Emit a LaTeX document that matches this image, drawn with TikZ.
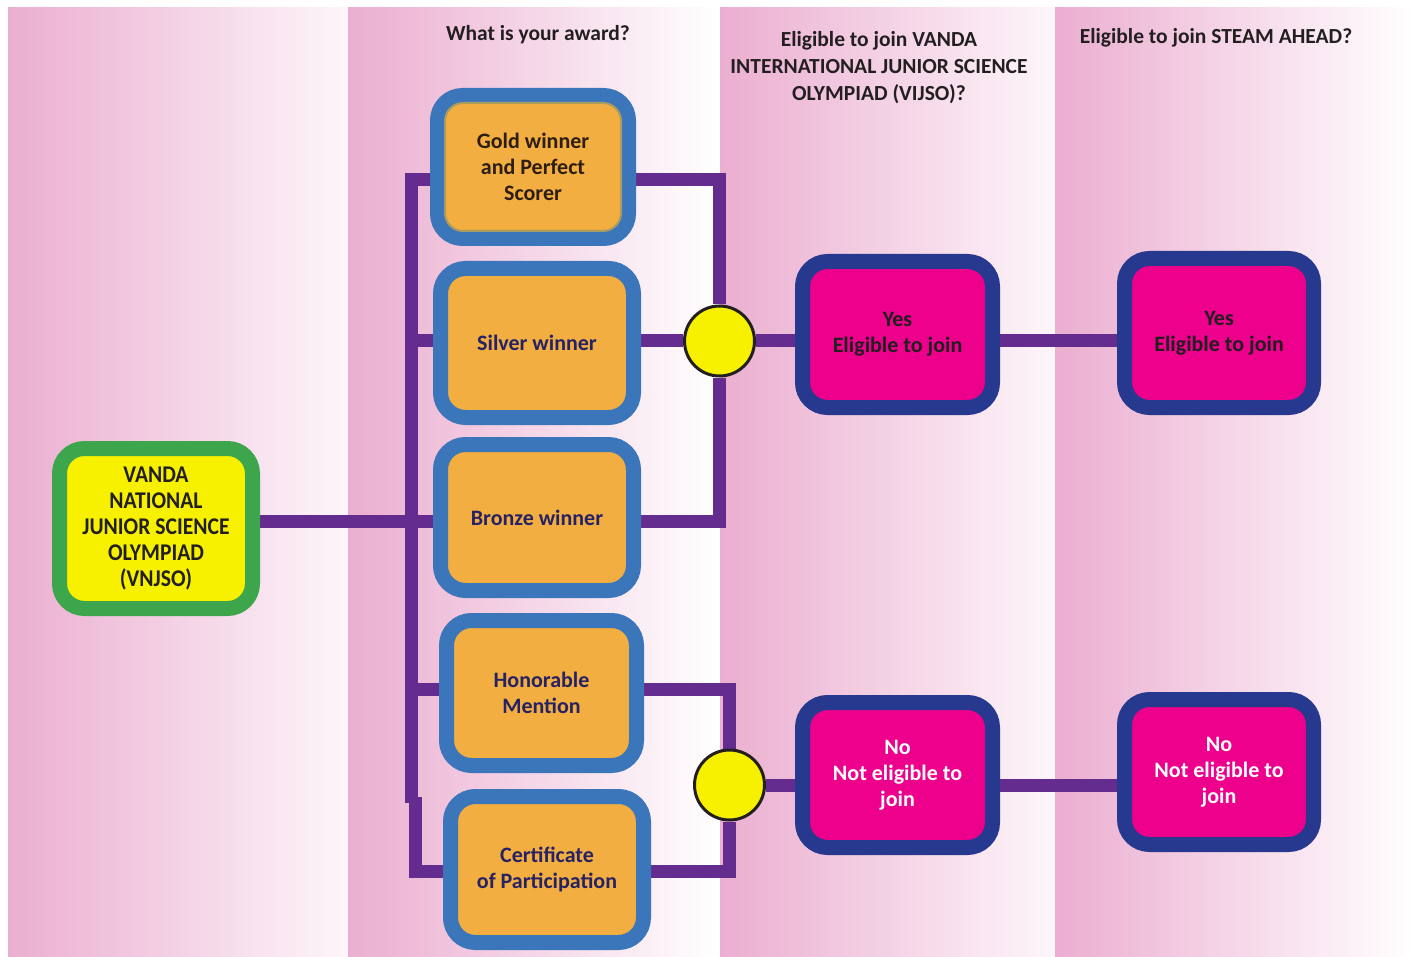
\documentclass[tikz,border=0pt]{standalone}
\usepackage{fontspec}
\setmainfont{Carlito}
\newfontfamily\hdfont{Carlito}
\newfontfamily\vnfont{Carlito}[FakeStretch=0.9]
\usetikzlibrary{calc}
\definecolor{pinkL}{HTML}{EBAED0}
\definecolor{pinkR}{HTML}{FDF6FA}
\definecolor{connpurple}{HTML}{652C90}
\definecolor{boxblue}{HTML}{3B76BB}
\definecolor{boxorange}{HTML}{F2AE40}
\definecolor{resnavy}{HTML}{27388F}
\definecolor{resmagenta}{HTML}{EC008C}
\definecolor{vgreen}{HTML}{3DA64C}
\definecolor{vyellow}{HTML}{F7F100}
\definecolor{txtnavy}{HTML}{262263}
\definecolor{txtdark}{HTML}{231F20}
\definecolor{goldtxt}{HTML}{2E1E12}
\definecolor{olivering}{HTML}{A89C5E}
\pgfdeclarelayer{bands}
\pgfdeclarelayer{lines}
\pgfsetlayers{bands,lines,main}
\begin{document}
\begin{tikzpicture}[x=1pt,y=-1pt,
  box/.style={rectangle, rounded corners=25pt, line width=15pt, inner sep=0pt, align=center,
    font=\bfseries\fontsize{22}{26}\selectfont},
  awd/.style={box, draw=boxblue, fill=boxorange, text=txtnavy},
  res/.style={box, draw=resnavy, fill=resmagenta},
  startbox/.style={box, draw=vgreen, fill=vyellow, text=txtdark,
    font=\vnfont\bfseries\fontsize{24}{26}\selectfont},
  conn/.style={draw=connpurple, line width=13pt},
  hub/.style={circle, draw=txtdark, fill=vyellow, line width=3pt, minimum size=70pt, inner sep=0pt},
  hdr/.style={align=center, text=txtdark, font=\hdfont\bfseries\fontsize{21.5}{27}\selectfont}
]
\useasboundingbox (0,0) rectangle (1413,957);

% background bands
\begin{pgfonlayer}{bands}
\fill[white] (0,0) rectangle (1413,957);
\shade[left color=pinkL, right color=pinkR] (8,8) rectangle (348,957);
\shade[left color=pinkL, right color=white] (348,8) rectangle (720,957);
\shade[left color=pinkL, right color=pinkR] (720,8) rectangle (1055,957);
\shade[left color=pinkL, right color=white] (1055,8) rectangle (1413,957);
\end{pgfonlayer}

% headers
\node[hdr] (h1) at (538,35) {What is your award?};
\node[hdr] (h2) at (879,68) {Eligible to join VANDA\\INTERNATIONAL JUNIOR SCIENCE\\OLYMPIAD (VIJSO)?};
\node[hdr] (h3) at (1216,38) {Eligible to join STEAM AHEAD?};

% nodes
\node[startbox, minimum width=193pt, minimum height=160pt] (vnjso) at (156,528.5)
  {VANDA\\NATIONAL\\JUNIOR SCIENCE\\OLYMPIAD\\(VNJSO)};
\node[awd, text=goldtxt, minimum width=191pt, minimum height=143pt] (gold) at (533,167)
  {Gold winner\\and Perfect\\Scorer};
\draw[olivering, line width=2pt, rounded corners=18pt] (445,103) rectangle (621,231);
\node[awd, minimum width=193pt, minimum height=149pt] (silver) at (537,343) {Silver winner};
\node[awd, minimum width=193pt, minimum height=146pt] (bronze) at (537,517.5) {Bronze winner};
\node[awd, minimum width=190pt, minimum height=145pt] (honor) at (541.5,693) {Honorable\\Mention};
\node[awd, minimum width=193pt, minimum height=146pt] (cert) at (547,869.5) {Certificate\\of Participation};

\node[hub] (c1) at (719.5,341) {};
\node[hub] (c2) at (729.5,785) {};

\node[res, text=txtdark, minimum width=190pt, minimum height=146pt] (yes1) at (897.5,334.5) {Yes\\Eligible to join};
\node[res, text=txtdark, minimum width=189pt, minimum height=149pt] (yes2) at (1219,333) {Yes\\Eligible to join};
\node[res, text=white, minimum width=190pt, minimum height=145pt] (no1) at (897.5,775) {No\\Not eligible to\\join};
\node[res, text=white, minimum width=189pt, minimum height=145pt] (no2) at (1219,772) {No\\Not eligible to\\join};

\coordinate (bb) at (411,803);
\coordinate (jog) at (415,797);

% connectors
\begin{pgfonlayer}{lines}
\draw[conn] (vnjso.east |- 0,521) -- (bronze.west |- 0,521);
\draw[conn] (gold.west |- 0,180) -| (bb);
\draw[conn] (bb |- 0,341) -- (silver.west |- 0,341);
\draw[conn] (bb |- 0,689) -- (honor.west |- 0,689);
\draw[conn] (jog) |- (cert.west |- 0,871);
\draw[conn] (gold.east |- 0,180) -| (c1.north);
\draw[conn] (silver.east |- c1) -- (c1.west);
\draw[conn] (bronze.east |- 0,521) -| (c1.south);
\draw[conn] (c1.east) -- (yes1.west |- c1);
\draw[conn] (yes1.east |- c1) -- (yes2.west |- c1);
\draw[conn] (honor.east |- 0,689) -| (c2.north);
\draw[conn] (cert.east |- 0,871) -| (c2.south);
\draw[conn] (c2.east) -- (no1.west |- c2);
\draw[conn] (no1.east |- c2) -- (no2.west |- c2);
\end{pgfonlayer}
\end{tikzpicture}
\end{document}
